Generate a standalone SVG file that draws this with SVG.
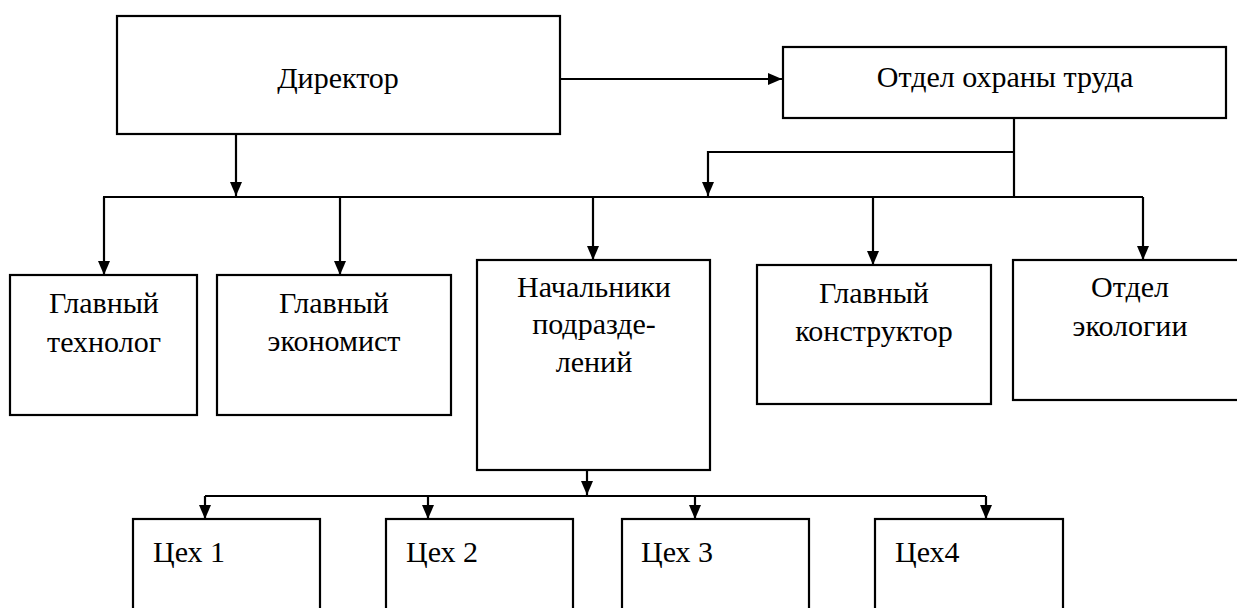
<svg xmlns="http://www.w3.org/2000/svg" width="1237" height="608" viewBox="0 0 1237 608">
<style>
.box{fill:#fff;stroke:#000;stroke-width:2.2}
.t{font-family:'Liberation Serif','Times New Roman','DejaVu Serif',serif;font-size:30px;fill:#000;text-anchor:middle}
.l{text-anchor:start}
.c{fill:none;stroke:#000;stroke-width:2.2}
</style>
<defs>
<marker id="ah" viewBox="0 0 14 12" refX="14" refY="6" markerWidth="14" markerHeight="12" orient="auto" markerUnits="userSpaceOnUse">
<path d="M0,0 L14,6 L0,12 z" fill="#000"/>
</marker>
</defs>
<g id="connectors">
<path class="c" d="M560,79 H782" marker-end="url(#ah)"/>
<path class="c" d="M236,134 V196" marker-end="url(#ah)"/>
<path class="c" d="M1014,118 V197"/>
<path class="c" d="M1014,152 H708 V196" marker-end="url(#ah)"/>
<path class="c" d="M103,197 H1143"/>
<path class="c" d="M104,197 V275" marker-end="url(#ah)"/>
<path class="c" d="M340,197 V275" marker-end="url(#ah)"/>
<path class="c" d="M593,197 V260" marker-end="url(#ah)"/>
<path class="c" d="M873,197 V265" marker-end="url(#ah)"/>
<path class="c" d="M1143,197 V260" marker-end="url(#ah)"/>
<path class="c" d="M587,470 V495" marker-end="url(#ah)"/>
<path class="c" d="M205,496 H986"/>
<path class="c" d="M205,496 V519" marker-end="url(#ah)"/>
<path class="c" d="M428,496 V519" marker-end="url(#ah)"/>
<path class="c" d="M695,496 V519" marker-end="url(#ah)"/>
<path class="c" d="M986,496 V519" marker-end="url(#ah)"/>
</g>
<g id="director">
<rect class="box" x="117" y="16" width="443" height="118"/>
<text class="t" x="338" y="88">Директор</text>
</g>
<g id="otdel-ohrany">
<rect class="box" x="783" y="47" width="443" height="71"/>
<text class="t" x="1005" y="87">Отдел охраны труда</text>
</g>
<g id="gl-tehnolog">
<rect class="box" x="10" y="275" width="187" height="140"/>
<text class="t" x="104" y="313">Главный</text>
<text class="t" x="104" y="352">технолог</text>
</g>
<g id="gl-ekonomist">
<rect class="box" x="217" y="275" width="234" height="140"/>
<text class="t" x="334" y="313">Главный</text>
<text class="t" x="334" y="351">экономист</text>
</g>
<g id="nachalniki">
<rect class="box" x="477" y="260" width="233" height="210"/>
<text class="t" x="594" y="297">Начальники</text>
<text class="t" x="594" y="334">подразде-</text>
<text class="t" x="594" y="372">лений</text>
</g>
<g id="gl-konstruktor">
<rect class="box" x="757" y="265" width="234" height="139"/>
<text class="t" x="874" y="303">Главный</text>
<text class="t" x="874" y="341">конструктор</text>
</g>
<g id="otdel-ekologii">
<rect class="box" x="1013" y="260" width="234" height="140"/>
<text class="t" x="1130" y="297">Отдел</text>
<text class="t" x="1130" y="336">экологии</text>
</g>
<g id="ceh1">
<rect class="box" x="133" y="519" width="187" height="120"/>
<text class="t l" x="153" y="562">Цех 1</text>
</g>
<g id="ceh2">
<rect class="box" x="386" y="519" width="187" height="120"/>
<text class="t l" x="406" y="562">Цех 2</text>
</g>
<g id="ceh3">
<rect class="box" x="622" y="519" width="187" height="120"/>
<text class="t l" x="641" y="562">Цех 3</text>
</g>
<g id="ceh4">
<rect class="box" x="875" y="519" width="188" height="120"/>
<text class="t l" x="895" y="562">Цех4</text>
</g>
</svg>
